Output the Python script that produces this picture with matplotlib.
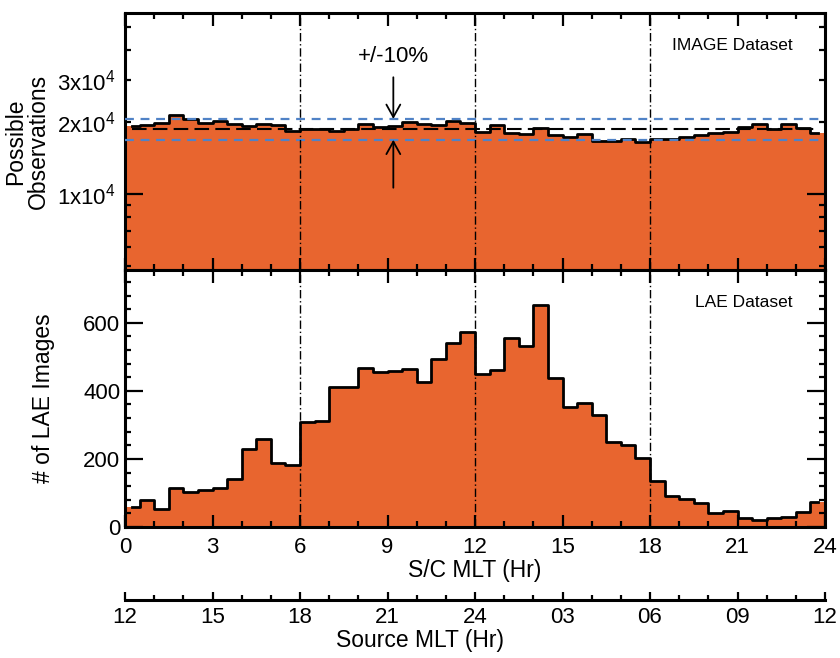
import matplotlib

matplotlib.use("Agg")
import matplotlib.pyplot as plt
import numpy as np
from matplotlib.ticker import FixedLocator, FuncFormatter, MultipleLocator

# 48 half-hour MLT bins, 0-24 hr
BIN_WIDTH = 0.5

# top panel: possible IMAGE observations per bin
image_counts = [
    19200, 19300, 19800, 21400, 20500, 19800, 20100, 19500, 19200, 19600, 19300, 18300,
    18700, 18600, 18300, 18600, 19600, 19000, 19200, 19900, 19600, 19400, 20200, 19700,
    18200, 19300, 18000, 17700, 18800, 17600, 17300, 17800, 16700, 16700, 17000, 16500,
    16900, 17000, 17300, 17600, 18000, 18200, 19000, 19600, 18600, 19600, 18800, 18000,
]

# bottom panel: number of LAE images per bin
lae_counts = [
    58, 79, 52, 116, 103, 109, 116, 140, 229, 259, 187, 183,
    308, 311, 410, 412, 466, 456, 459, 463, 425, 495, 540, 572,
    449, 461, 556, 532, 653, 439, 353, 364, 330, 249, 242, 203,
    136, 92, 82, 70, 42, 47, 25, 22, 25, 28, 44, 72,
]

sc_mlt_ticks = [0, 3, 6, 9, 12, 15, 18, 21, 24]
source_mlt_labels = ["12", "15", "18", "21", "24", "03", "06", "09", "12"]
sector_lines = [6, 12, 18]
tolerance = 0.10
arrow_mlt = 9.2

FILL_COLOR = "#E8652F"
BLUE = "#5082C6"
TICK_SIZE = 16
LABEL_SIZE = 16.5

plt.rcParams["font.family"] = ["Liberation Sans", "DejaVu Sans"]
plt.rcParams["mathtext.fontset"] = "custom"
plt.rcParams["mathtext.rm"] = "Liberation Sans"
plt.rcParams["mathtext.it"] = "Liberation Sans:italic"


def style_axis(ax):
    for spine in ax.spines.values():
        spine.set_linewidth(2.2)
    ax.tick_params(which="both", direction="in", top=True, right=True, width=1.6,
                   labelsize=TICK_SIZE)
    ax.tick_params(which="major", length=9)
    ax.tick_params(which="minor", length=4.5)
    ax.set_xlim(0, 24)
    ax.xaxis.set_major_locator(MultipleLocator(3))
    ax.xaxis.set_minor_locator(MultipleLocator(1))


def draw_histogram(ax, counts):
    counts = np.asarray(counts, dtype=float)
    edges = np.arange(len(counts) + 1) * BIN_WIDTH
    centers = edges[:-1] + BIN_WIDTH / 2
    floor = ax.get_ylim()[0]
    ax.fill_between(edges, np.append(counts, counts[-1]), floor, step="post",
                    color=FILL_COLOR, linewidth=0, zorder=1)
    ax.step(centers, counts, where="mid", color="black", linewidth=2.0, zorder=3)
    for x in sector_lines:
        ax.axvline(x, color="black", linewidth=1.0, dashes=(6, 2, 1, 2), zorder=4)


def plot_top(ax):
    ax.set_yscale("log")
    ax.set_ylim(4800, 57000)
    style_axis(ax)
    draw_histogram(ax, image_counts)

    mean_val = np.mean(image_counts)
    ax.plot([BIN_WIDTH / 2, 24 - BIN_WIDTH / 2], [mean_val, mean_val], color="black",
            linewidth=1.5, dashes=(7, 3), zorder=3)
    for frac in (1 + tolerance, 1 - tolerance):
        ax.axhline(mean_val * frac, color=BLUE, linewidth=1.6, dashes=(4, 3), zorder=3)

    upper = mean_val * (1 + tolerance)
    lower = mean_val * (1 - tolerance)
    arrow = dict(arrowstyle="->,head_length=0.9,head_width=0.5", color="black",
                 linewidth=1.3, shrinkA=0, shrinkB=0)
    ax.annotate("", xy=(arrow_mlt, upper), xytext=(arrow_mlt, 3.07e4), arrowprops=arrow,
                zorder=5)
    ax.annotate("", xy=(arrow_mlt, lower), xytext=(arrow_mlt, 1.06e4), arrowprops=arrow,
                zorder=5)
    ax.text(arrow_mlt, 3.75e4, "+/-10%", ha="center", va="center", fontsize=16)

    ax.yaxis.set_major_locator(FixedLocator([1e4]))
    ax.yaxis.set_minor_locator(FixedLocator([5e3, 6e3, 7e3, 8e3, 9e3, 2e4, 3e4, 4e4, 5e4]))
    ax.yaxis.set_major_formatter(FuncFormatter(lambda v, p: r"1x10$^4$"))
    ax.yaxis.set_minor_formatter(FuncFormatter(
        lambda v, p: f"{int(round(v / 1e4))}x10$^4$" if round(v) in (20000, 30000) else ""))
    ax.tick_params(axis="y", which="both", labelsize=TICK_SIZE, pad=7)
    ax.tick_params(axis="y", which="major", length=13)
    ax.tick_params(labelbottom=False)

    ax.set_ylabel("Possible\nObservations", fontsize=LABEL_SIZE, linespacing=1.0)
    ax.yaxis.set_label_coords(-0.107, 0.5)
    ax.text(0.954, 0.875, "IMAGE Dataset", transform=ax.transAxes, ha="right",
            va="center", fontsize=12.5)


def plot_bottom(ax):
    ax.set_ylim(0, 755)
    style_axis(ax)
    draw_histogram(ax, lae_counts)
    ax.yaxis.set_major_locator(MultipleLocator(200))
    ax.yaxis.set_minor_locator(MultipleLocator(40))
    ax.tick_params(axis="y", which="major", length=13)
    ax.set_xticks(sc_mlt_ticks)
    ax.tick_params(axis="x", pad=7)
    ax.set_xlabel("S/C MLT (Hr)", fontsize=LABEL_SIZE, labelpad=1)
    ax.set_ylabel("# of LAE Images", fontsize=LABEL_SIZE)
    ax.yaxis.set_label_coords(-0.1, 0.5)
    ax.text(0.954, 0.872, "LAE Dataset", transform=ax.transAxes, ha="right",
            va="center", fontsize=12.5)


def plot_source_axis(fig, left, width):
    ax = fig.add_axes([left, 1 - 600 / 658, width, 0.0001])
    ax.patch.set_visible(False)
    for side in ("top", "left", "right"):
        ax.spines[side].set_visible(False)
    ax.spines["bottom"].set_linewidth(2.2)
    ax.set_xlim(0, 24)
    ax.set_yticks([])
    ax.set_xticks(sc_mlt_ticks)
    ax.set_xticklabels(source_mlt_labels)
    ax.xaxis.set_minor_locator(MultipleLocator(1))
    ax.tick_params(which="both", direction="in", width=1.6, labelsize=TICK_SIZE, pad=5)
    ax.tick_params(which="major", length=6)
    ax.tick_params(which="minor", length=3.5)
    ax.set_xlabel("Source MLT (Hr)", fontsize=LABEL_SIZE)
    ax.xaxis.set_label_coords(0.5, 1 - 629 / 658, transform=fig.transFigure)


def main():
    fig = plt.figure(figsize=(8.4, 6.58), dpi=100)
    left = 125 / 840
    width = 700 / 840
    height = 257 / 658
    ax_top = fig.add_axes([left, 1 - 270 / 658, width, height])
    ax_bottom = fig.add_axes([left, 1 - 527 / 658, width, height])
    plot_top(ax_top)
    plot_bottom(ax_bottom)
    plot_source_axis(fig, left, width)
    fig.savefig("out.png", dpi=100)
    plt.close(fig)


if __name__ == "__main__":
    main()
